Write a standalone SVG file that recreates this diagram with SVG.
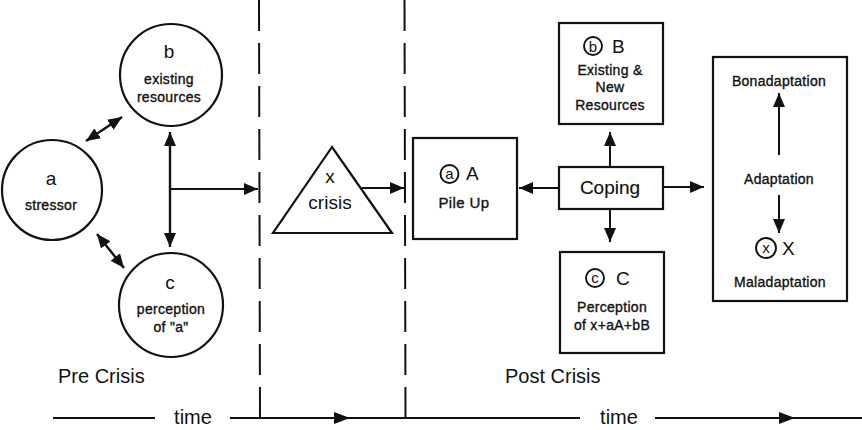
<svg xmlns="http://www.w3.org/2000/svg" width="862" height="430" viewBox="0 0 862 430">
  <defs>
    <marker id="head" markerUnits="userSpaceOnUse" markerWidth="14" markerHeight="12" refX="14" refY="6" orient="auto-start-reverse">
      <path d="M0,0 L14,6 L0,12 z" fill="#111"/>
    </marker>
    <style>
      .shape { fill: #fff; stroke: #111; stroke-width: 2.2; }
      .line { fill: none; stroke: #111; stroke-width: 2; }
      .arrow { fill: none; stroke: #111; stroke-width: 2; marker-end: url(#head); }
      .both { fill: none; stroke: #111; stroke-width: 2.4; marker-start: url(#head); marker-end: url(#head); }
      .dash { fill: none; stroke: #111; stroke-width: 2; stroke-dasharray: 31 12; }
      .t { font-family: "Liberation Sans", Arial, sans-serif; fill: #111; text-anchor: middle; }
      .s { text-anchor: start; }
      .sm { font-size: 14px; letter-spacing: 0.3px; stroke: #111; stroke-width: 0.35; }
      .pu { font-size: 15px; letter-spacing: 0.4px; stroke: #111; stroke-width: 0.35; }
      .md { font-size: 19px; }
      .cp { font-size: 19px; stroke: #111; stroke-width: 0.15; }
      .tg { font-size: 15px; }
      .lg { font-size: 20px; }
      .tag { fill: none; stroke: #111; stroke-width: 1.9; }
    </style>
  </defs>

  <!-- time dividers -->
  <g id="dividers">
    <line class="dash" x1="259" y1="0" x2="260" y2="417"/>
    <line class="dash" x1="404.5" y1="0" x2="405.5" y2="417"/>
  </g>

  <!-- time axis -->
  <g id="timeline">
    <line class="line" x1="53" y1="418" x2="155" y2="418"/>
    <text class="t lg" x="193" y="424">time</text>
    <line class="line" x1="230" y1="418" x2="580" y2="418"/>
    <polygon points="334,412 350,418 334,424" fill="#111"/>
    <text class="t lg" x="619" y="424">time</text>
    <line class="line" x1="655" y1="418" x2="862" y2="418"/>
    <polygon points="779,412 795,418 779,424" fill="#111"/>
    <text class="t lg s" x="58" y="383">Pre Crisis</text>
    <text class="t lg s" x="505" y="383">Post Crisis</text>
  </g>

  <!-- a: stressor -->
  <g id="node-a">
    <circle class="shape" cx="52" cy="190" r="50"/>
    <text class="t md" x="51" y="185">a</text>
    <text class="t sm" x="51" y="210">stressor</text>
  </g>

  <!-- b: existing resources -->
  <g id="node-b">
    <circle class="shape" cx="171" cy="75" r="51"/>
    <text class="t md" x="169" y="58">b</text>
    <text class="t sm" x="169" y="84">existing</text>
    <text class="t sm" x="169" y="102">resources</text>
  </g>

  <!-- c: perception of a -->
  <g id="node-c">
    <circle class="shape" cx="171" cy="305" r="52"/>
    <text class="t md" x="170" y="289">c</text>
    <text class="t sm" x="171" y="314">perception</text>
    <text class="t sm" x="171" y="332">of "a"</text>
  </g>

  <!-- x: crisis -->
  <g id="node-x">
    <polygon class="shape" points="332,147 273,233 392,233"/>
    <text class="t md" x="330" y="183">x</text>
    <text class="t md" x="330" y="209">crisis</text>
  </g>

  <!-- aA: pile up -->
  <g id="node-A">
    <rect class="shape" x="413" y="138" width="104" height="101"/>
    <circle class="tag" cx="449.5" cy="174" r="9"/>
    <text class="t tg" x="449.5" y="179">a</text>
    <text class="t md s" x="466" y="180">A</text>
    <text class="t pu" x="464" y="208">Pile Up</text>
  </g>

  <!-- bB: existing and new resources -->
  <g id="node-B">
    <rect class="shape" x="559" y="23" width="104" height="101"/>
    <circle class="tag" cx="593" cy="46" r="9"/>
    <text class="t tg" x="593" y="51.5">b</text>
    <text class="t md s" x="612" y="53">B</text>
    <text class="t sm" x="610" y="75">Existing &amp;</text>
    <text class="t sm" x="610" y="92">New</text>
    <text class="t sm" x="610" y="110">Resources</text>
  </g>

  <!-- coping -->
  <g id="node-coping">
    <rect class="shape" x="559" y="167" width="104" height="42"/>
    <text class="t cp" x="610" y="194">Coping</text>
  </g>

  <!-- cC: perception -->
  <g id="node-C">
    <rect class="shape" x="560" y="252" width="104" height="101"/>
    <circle class="tag" cx="595" cy="278" r="9"/>
    <text class="t tg" x="595" y="283">c</text>
    <text class="t md s" x="616" y="285">C</text>
    <text class="t sm" x="612" y="312">Perception</text>
    <text class="t sm" x="612" y="330">of x+aA+bB</text>
  </g>

  <!-- adaptation outcomes -->
  <g id="node-adaptation">
    <rect class="shape" x="713" y="57" width="134" height="244"/>
    <text class="t sm" x="779" y="86">Bonadaptation</text>
    <text class="t sm" x="779" y="184">Adaptation</text>
    <circle class="tag" cx="766" cy="248" r="10"/>
    <text class="t tg" x="766" y="253">x</text>
    <text class="t md s" x="782" y="255">X</text>
    <text class="t sm" x="780" y="287">Maladaptation</text>
  </g>

  <!-- connectors -->
  <g id="connectors">
    <line class="both" x1="86" y1="141" x2="122" y2="117"/>
    <line class="both" x1="97" y1="234" x2="124" y2="268"/>
    <line class="both" x1="170" y1="132" x2="170" y2="247"/>
    <line class="arrow" x1="170" y1="189" x2="258" y2="189"/>
    <line class="arrow" x1="362" y1="188" x2="404" y2="188"/>
    <line class="arrow" x1="559" y1="188" x2="519" y2="188"/>
    <line class="arrow" x1="663" y1="187" x2="704" y2="187"/>
    <line class="arrow" x1="610" y1="167" x2="610" y2="132"/>
    <line class="arrow" x1="610" y1="209" x2="610" y2="242"/>
    <line class="arrow" x1="779" y1="155" x2="779" y2="93"/>
    <line class="arrow" x1="779" y1="195" x2="779" y2="233"/>
  </g>
</svg>
